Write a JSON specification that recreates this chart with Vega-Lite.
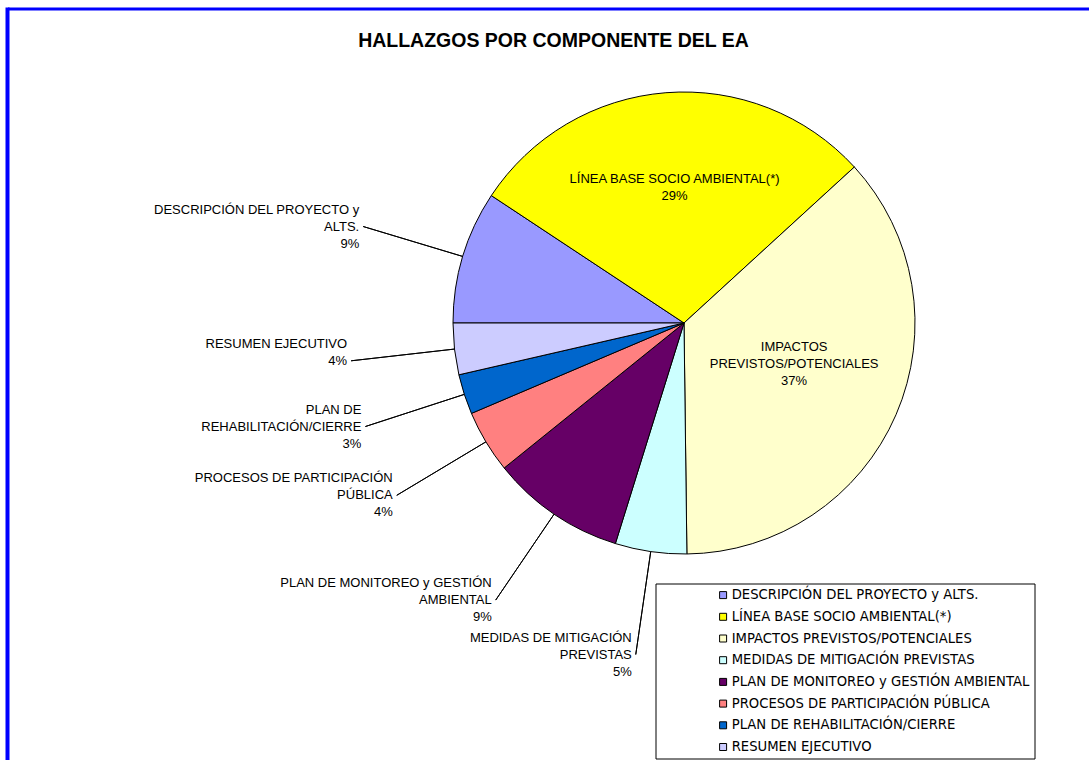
{
  "$schema": "https://vega.github.io/schema/vega-lite/v6.json",
  "autosize": {"type": "pad"},
  "padding": {"left": 5, "top": 7, "right": -272, "bottom": -12},
  "bounds": "flush",
  "spacing": 0,
  "background": "#ffffff",
  "config": {"font": "Liberation Sans"},
  "title": {
    "text": "HALLAZGOS POR COMPONENTE  DEL EA",
    "font": "Liberation Sans",
    "fontSize": 19.5,
    "fontWeight": "bold",
    "color": "#000000",
    "anchor": "middle",
    "frame": "bounds",
    "dx": -130,
    "baseline": "alphabetic",
    "offset": -59
  },
  "hconcat": [
    {
      "width": 1,
      "height": 762,
      "view": {"stroke": "#0000FF", "strokeWidth": 3},
      "data": {"values": []},
      "mark": {"type": "rule"},
      "encoding": {}
    },
    {
      "width": 1352,
      "height": 628,
      "view": {"stroke": "#0000FF", "strokeWidth": 3, "strokeDash": [1352, 2608]},
      "data": {
        "values": [
          {"componente": "DESCRIPCIÓN DEL PROYECTO y ALTS.", "etiqueta": "DESCRIPCIÓN DEL PROYECTO y\nALTS.", "valor": 0.093, "orden": 1},
          {"componente": "LÍNEA BASE SOCIO AMBIENTAL(*)", "etiqueta": "LÍNEA BASE SOCIO AMBIENTAL(*)", "valor": 0.289, "orden": 2},
          {"componente": "IMPACTOS PREVISTOS/POTENCIALES", "etiqueta": "IMPACTOS\nPREVISTOS/POTENCIALES", "valor": 0.366, "orden": 3},
          {"componente": "MEDIDAS DE MITIGACIÓN PREVISTAS", "etiqueta": "MEDIDAS DE MITIGACIÓN\nPREVISTAS", "valor": 0.05, "orden": 4},
          {"componente": "PLAN DE MONITOREO y GESTIÓN AMBIENTAL", "etiqueta": "PLAN DE MONITOREO y GESTIÓN\nAMBIENTAL", "valor": 0.094, "orden": 5},
          {"componente": "PROCESOS DE PARTICIPACIÓN PÚBLICA", "etiqueta": "PROCESOS DE PARTICIPACIÓN\nPÚBLICA", "valor": 0.044, "orden": 6},
          {"componente": "PLAN DE REHABILITACIÓN/CIERRE", "etiqueta": "PLAN DE\nREHABILITACIÓN/CIERRE", "valor": 0.028, "orden": 7},
          {"componente": "RESUMEN EJECUTIVO", "etiqueta": "RESUMEN EJECUTIVO", "valor": 0.036, "orden": 8}
        ]
      },
      "transform": [
        {"stack": "valor", "groupby": [], "sort": [{"field": "orden", "order": "ascending"}], "as": ["v0", "v1"]}
      ],
      "layer": [
        {
          "mark": {"type": "arc", "outerRadius": 231, "stroke": "#000000", "strokeWidth": 1},
          "encoding": {
            "theta": {"field": "v0", "type": "quantitative", "stack": null, "scale": {"domain": [0, 1], "range": [4.71238898038469, 10.995574287564276]}},
            "theta2": {"field": "v1"},
            "color": {
              "field": "componente",
              "type": "nominal",
              "scale": {
                "domain": ["DESCRIPCIÓN DEL PROYECTO y ALTS.", "LÍNEA BASE SOCIO AMBIENTAL(*)", "IMPACTOS PREVISTOS/POTENCIALES", "MEDIDAS DE MITIGACIÓN PREVISTAS", "PLAN DE MONITOREO y GESTIÓN AMBIENTAL", "PROCESOS DE PARTICIPACIÓN PÚBLICA", "PLAN DE REHABILITACIÓN/CIERRE", "RESUMEN EJECUTIVO"],
                "range": ["#9999FF", "#FFFF00", "#FFFFCC", "#CCFFFF", "#660066", "#FF8080", "#0066CC", "#CCCCFF"]
              },
              "legend": {
                "orient": "none",
                "legendX": 648.5,
                "legendY": 574.5,
                "title": null,
                "direction": "vertical",
                "symbolType": "square",
                "symbolSize": 49,
                "symbolStrokeColor": "#000000",
                "symbolStrokeWidth": 1,
                "labelFont": "DejaVu Sans",
                "labelFontSize": 13.2,
                "labelColor": "#000000",
                "labelLimit": 600,
                "labelOffset": 2,
                "rowPadding": 7.7,
                "padding": 5,
                "symbolOffset": 56,
                "strokeColor": "#000000",
                "fillColor": "#ffffff"
              }
            }
          }
        },
        {
          "transform": [
            {"fold": ["v0", "v1"], "as": ["borde", "ang"]},
            {"aggregate": [{"op": "mean", "field": "ang", "as": "mid"}], "groupby": ["componente", "etiqueta", "valor", "orden"]},
            {"filter": "datum.valor < 0.2"}
          ],
          "mark": {"type": "arc", "innerRadius": 231, "outerRadius": 335, "stroke": "#000000", "strokeWidth": 1, "fillOpacity": 0},
          "encoding": {
            "theta": {"field": "mid", "type": "quantitative", "stack": null, "scale": {"domain": [0, 1], "range": [4.71238898038469, 10.995574287564276]}},
            "theta2": {"field": "mid"}
          }
        },
        {
          "transform": [
            {"fold": ["v0", "v1"], "as": ["borde", "ang"]},
            {"aggregate": [{"op": "mean", "field": "ang", "as": "mid"}], "groupby": ["componente", "etiqueta", "valor", "orden"]},
            {"filter": "datum.valor < 0.2"}
          ],
          "mark": {
            "type": "text",
            "radius": 335,
            "align": "right",
            "baseline": "middle",
            "dx": -4,
            "dy": -17,
            "lineBreak": "\n",
            "lineHeight": 17,
            "font": "Liberation Sans",
            "fontSize": 13,
            "color": "#000000",
            "text": {"expr": "datum.etiqueta + '\\n' + format(datum.valor, '.0%')"}
          },
          "encoding": {
            "theta": {"field": "mid", "type": "quantitative", "stack": null, "scale": {"domain": [0, 1], "range": [4.71238898038469, 10.995574287564276]}}
          }
        },
        {
          "transform": [
            {"fold": ["v0", "v1"], "as": ["borde", "ang"]},
            {"aggregate": [{"op": "mean", "field": "ang", "as": "mid"}], "groupby": ["componente", "etiqueta", "valor", "orden"]},
            {"filter": "datum.valor >= 0.2"}
          ],
          "mark": {
            "type": "text",
            "radius": 120,
            "align": "center",
            "baseline": "middle",
            "dy": -24,
            "lineBreak": "\n",
            "lineHeight": 17,
            "font": "Liberation Sans",
            "fontSize": 13,
            "color": "#000000",
            "text": {"expr": "datum.etiqueta + '\\n' + format(datum.valor, '.0%')"}
          },
          "encoding": {
            "theta": {"field": "mid", "type": "quantitative", "stack": null, "scale": {"domain": [0, 1], "range": [4.71238898038469, 10.995574287564276]}}
          }
        }
      ]
    }
  ]
}
